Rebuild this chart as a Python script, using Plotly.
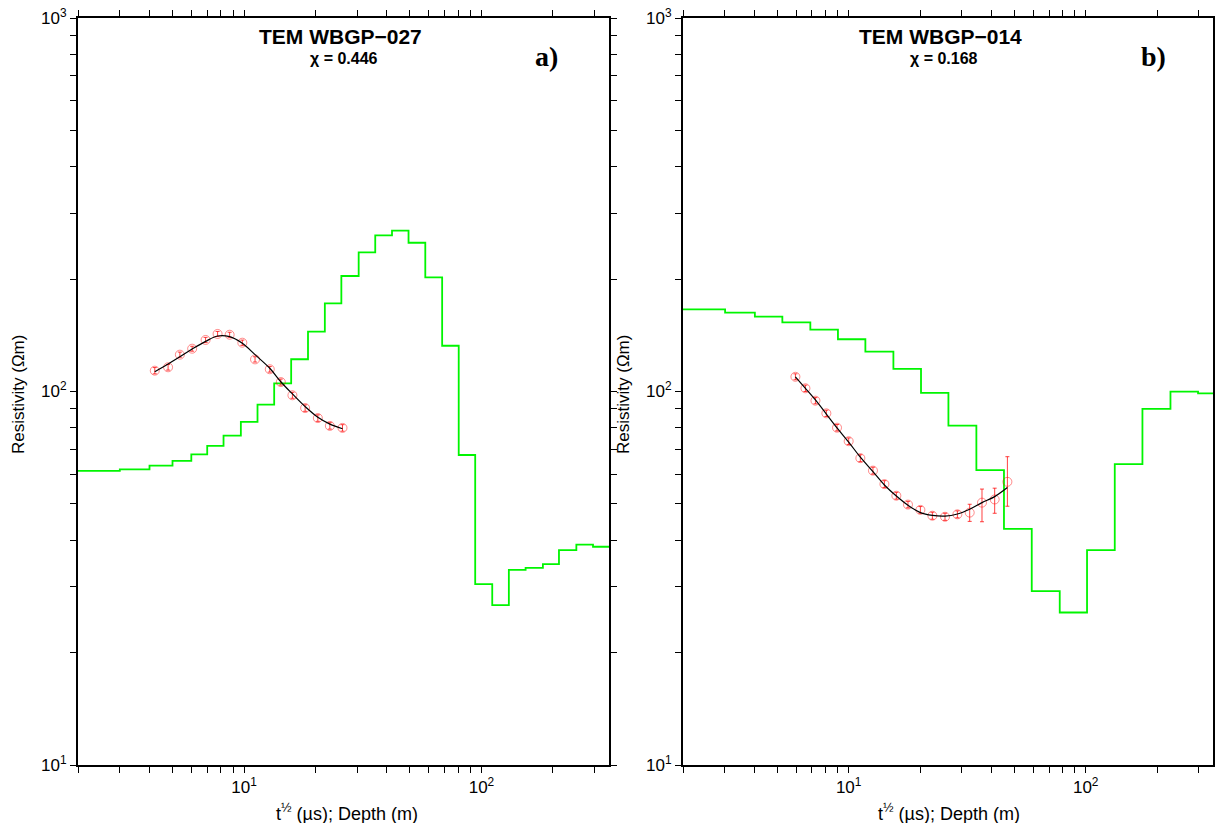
import plotly.graph_objects as go

# ---------------- Panel a) TEM WBGP-027 ----------------
a_layer_bounds = [3.0, 4.0, 5.0, 6.0, 7.0, 8.2, 9.7, 11.4, 13.4, 15.8, 18.6, 21.9,
                  25.7, 30.4, 35.7, 42.0, 49.3, 58.0, 68.3, 80.2, 94.1, 111, 130.4,
                  153.4, 181.4, 212, 250.9, 294.9]
a_layer_rho = [61.3, 61.9, 63.3, 65.2, 67.9, 71.5, 76.2, 82.9, 92.2, 105.2, 122, 144.6,
               172.2, 203.8, 235.9, 261.9, 269.5, 250.2, 202.2, 132.6, 67.6, 30.5, 26.8,
               33.3, 33.7, 34.5, 37.6, 38.9, 38.4]
a_time = [4.21, 4.79, 5.37, 6.05, 6.89, 7.74, 8.70, 9.84, 11.13, 12.84, 14.29, 15.99,
          18.09, 20.46, 22.99, 25.99]
a_obs = [113.7, 116.1, 125.5, 130.2, 137.4, 142.6, 141.9, 135.1, 121.9, 114.7, 106.0,
         97.7, 90.3, 84.9, 80.9, 79.9]
a_fit = [113.0, 118.5, 123.9, 129.9, 136.2, 140.8, 140.2, 134.6, 125.5, 115.4, 106.2,
         98.5, 91.1, 85.3, 81.8, 79.5]
a_err = [2.2, 2.0, 2.0, 2.0, 2.2, 2.2, 2.2, 2.2, 2.0, 2.0, 2.0, 1.8, 1.8, 1.7, 1.6, 1.6]

# ---------------- Panel b) TEM WBGP-014 ----------------
b_layer_bounds = [3.01, 4.02, 5.25, 6.89, 9.01, 11.76, 15.44, 20.19, 26.35, 34.57, 45.2,
                  59.2, 77.7, 101.3, 132.6, 173.5, 227.8, 297.8]
b_layer_rho = [166.0, 162.6, 158.6, 153.2, 146.4, 138.0, 127.8, 114.9, 99.1, 81.0, 61.6,
               42.9, 29.2, 25.6, 37.6, 63.9, 89.8, 99.9, 98.9]
b_time = [5.96, 6.57, 7.24, 8.05, 8.93, 10.0, 11.20, 12.66, 14.15, 15.89, 17.79, 20.07,
          22.55, 25.49, 28.75, 32.40, 36.51, 41.30, 46.73]
b_obs = [109.5, 102.0, 94.5, 87.4, 80.0, 73.6, 66.3, 61.4, 56.5, 52.6, 49.8, 48.2, 46.5,
         46.2, 46.9, 47.4, 50.4, 51.4, 57.3]
b_fit = [109.5, 102.0, 94.9, 87.0, 79.9, 73.2, 66.7, 61.0, 56.2, 52.5, 49.6, 47.4, 46.6,
         46.4, 47.0, 48.4, 50.4, 52.3, 55.3]
b_err_plus = [2.0, 2.0, 1.8, 1.7, 1.6, 1.5, 1.4, 1.3, 1.2, 1.1, 1.0, 1.0, 1.0, 1.0, 1.0,
              2.5, 4.4, 3.7, 9.6]
b_err_minus = [2.0, 2.0, 1.8, 1.7, 1.6, 1.5, 1.4, 1.3, 1.2, 1.1, 1.0, 1.0, 1.0, 1.0, 1.0,
               2.5, 5.6, 4.2, 8.0]

titles = ["TEM WBGP\u2212027", "TEM WBGP\u2212014"]
chis = ["\u03c7 = 0.446", "\u03c7 = 0.168"]
letters = ["a)", "b)"]

x_title = "t<sup>\u00bd</sup> (\u00b5s); Depth (m)"
y_title = "Resistivity (\u03a9m)"

GREEN = "rgb(0,245,0)"
RED = "rgba(255,0,0,0.45)"
FONT = "Liberation Sans, Arial, Helvetica, sans-serif"

fig = go.Figure()


def add_panel(bounds, rho, t, obs, fit, ep, em, xa, ya):
    xs = [1.0] + list(bounds) + [1000.0]
    ys = list(rho) + [rho[-1]]
    fig.add_trace(go.Scatter(x=xs, y=ys, mode="lines", line=dict(color=GREEN, width=1.8, shape="hv"),
                             xaxis=xa, yaxis=ya, showlegend=False, hoverinfo="skip"))
    fig.add_trace(go.Scatter(x=t, y=obs, mode="markers",
                             marker=dict(symbol="circle-open", size=9, color=RED, line=dict(width=1, color=RED)),
                             error_y=dict(type="data", array=ep, arrayminus=em, color="rgba(255,0,0,0.75)",
                                          thickness=1, width=2, symmetric=False),
                             xaxis=xa, yaxis=ya, showlegend=False))
    fig.add_trace(go.Scatter(x=t, y=fit, mode="lines", line=dict(color="black", width=1.2, shape="spline"),
                             xaxis=xa, yaxis=ya, showlegend=False))


add_panel(a_layer_bounds, a_layer_rho, a_time, a_obs, a_fit, a_err, a_err, "x", "y")
add_panel(b_layer_bounds, b_layer_rho, b_time, b_obs, b_fit, b_err_plus, b_err_minus, "x2", "y2")

W, H = 1215, 823

x_tickvals = [2, 3, 4, 5, 6, 7, 8, 9, 10, 20, 30, 40, 50, 60, 70, 80, 90, 100, 200, 300]
x_ticktext = ["10<sup>1</sup>" if v == 10 else ("10<sup>2</sup>" if v == 100 else "") for v in x_tickvals]
y_tickvals = [10, 20, 30, 40, 50, 60, 70, 80, 90, 100, 200, 300, 400, 500, 600, 700, 800, 900, 1000]
y_map = {10: "10<sup>1</sup>", 100: "10<sup>2</sup>", 1000: "10<sup>3</sup>"}
y_ticktext = [y_map.get(v, "") for v in y_tickvals]

x_range = [0.301, 2.537]
y_range = [1, 3]

common_x = dict(type="log", range=x_range, tickvals=x_tickvals, ticktext=x_ticktext,
                ticks="outside", ticklen=6, tickwidth=1, tickcolor="black", tickangle=0,
                showline=True, linecolor="black", linewidth=2, mirror="ticks",
                showgrid=False, zeroline=False, automargin=False,
                tickfont=dict(size=17, color="black", family=FONT))
common_y = dict(type="log", range=y_range, tickvals=y_tickvals, ticktext=y_ticktext,
                ticks="outside", ticklen=6, tickwidth=1, tickcolor="black", tickangle=0,
                showline=True, linecolor="black", linewidth=2, mirror="ticks",
                showgrid=False, zeroline=False, automargin=False,
                tickfont=dict(size=17, color="black", family=FONT))

dom_y = [1 - 765 / H, 1 - 18 / H]
dom_a = [78 / W, 609 / W]
dom_b = [683 / W, 1213 / W]

annotations = []
panel_cx = [340 / W, 940 / W]
letter_x = [546 / W, 1153 / W]
xt_x = [347 / W, 949 / W]
yt_x = [18 / W, 623 / W]
for i in range(2):
    annotations.append(dict(text="<b>" + titles[i] + "</b>", x=panel_cx[i], y=1 - 36 / H, xref="paper", yref="paper",
                            showarrow=False, xanchor="center", yanchor="middle",
                            font=dict(size=21, color="black", family=FONT)))
    annotations.append(dict(text="<b>" + chis[i] + "</b>", x=panel_cx[i] + 0.003, y=1 - 59 / H, xref="paper", yref="paper",
                            showarrow=False, xanchor="center", yanchor="middle",
                            font=dict(size=16, color="black", family=FONT)))
    annotations.append(dict(text="<b>" + letters[i] + "</b>", x=letter_x[i], y=1 - 57 / H, xref="paper", yref="paper",
                            showarrow=False, xanchor="center", yanchor="middle",
                            font=dict(size=28, color="black", family="Liberation Serif, Times New Roman, serif")))
    annotations.append(dict(text=x_title, x=xt_x[i], y=1 - 812 / H, xref="paper", yref="paper",
                            showarrow=False, xanchor="center", yanchor="middle",
                            font=dict(size=18, color="black", family=FONT)))
    annotations.append(dict(text=y_title, x=yt_x[i], y=1 - 395 / H, xref="paper", yref="paper",
                            showarrow=False, xanchor="center", yanchor="middle", textangle=-90,
                            font=dict(size=17, color="black", family=FONT)))

fig.update_layout(
    width=W, height=H,
    margin=dict(l=0, r=0, t=0, b=0, autoexpand=False),
    paper_bgcolor="white", plot_bgcolor="white",
    xaxis=dict(domain=dom_a, anchor="y", **common_x),
    yaxis=dict(domain=dom_y, anchor="x", **common_y),
    xaxis2=dict(domain=dom_b, anchor="y2", **common_x),
    yaxis2=dict(domain=dom_y, anchor="x2", **common_y),
    annotations=annotations,
    showlegend=False,
    font=dict(family=FONT, color="black"),
)

fig.write_html("out.html", config={"displayModeBar": False},
               post_script="document.body.style.margin='0';document.body.style.overflow='hidden';")
